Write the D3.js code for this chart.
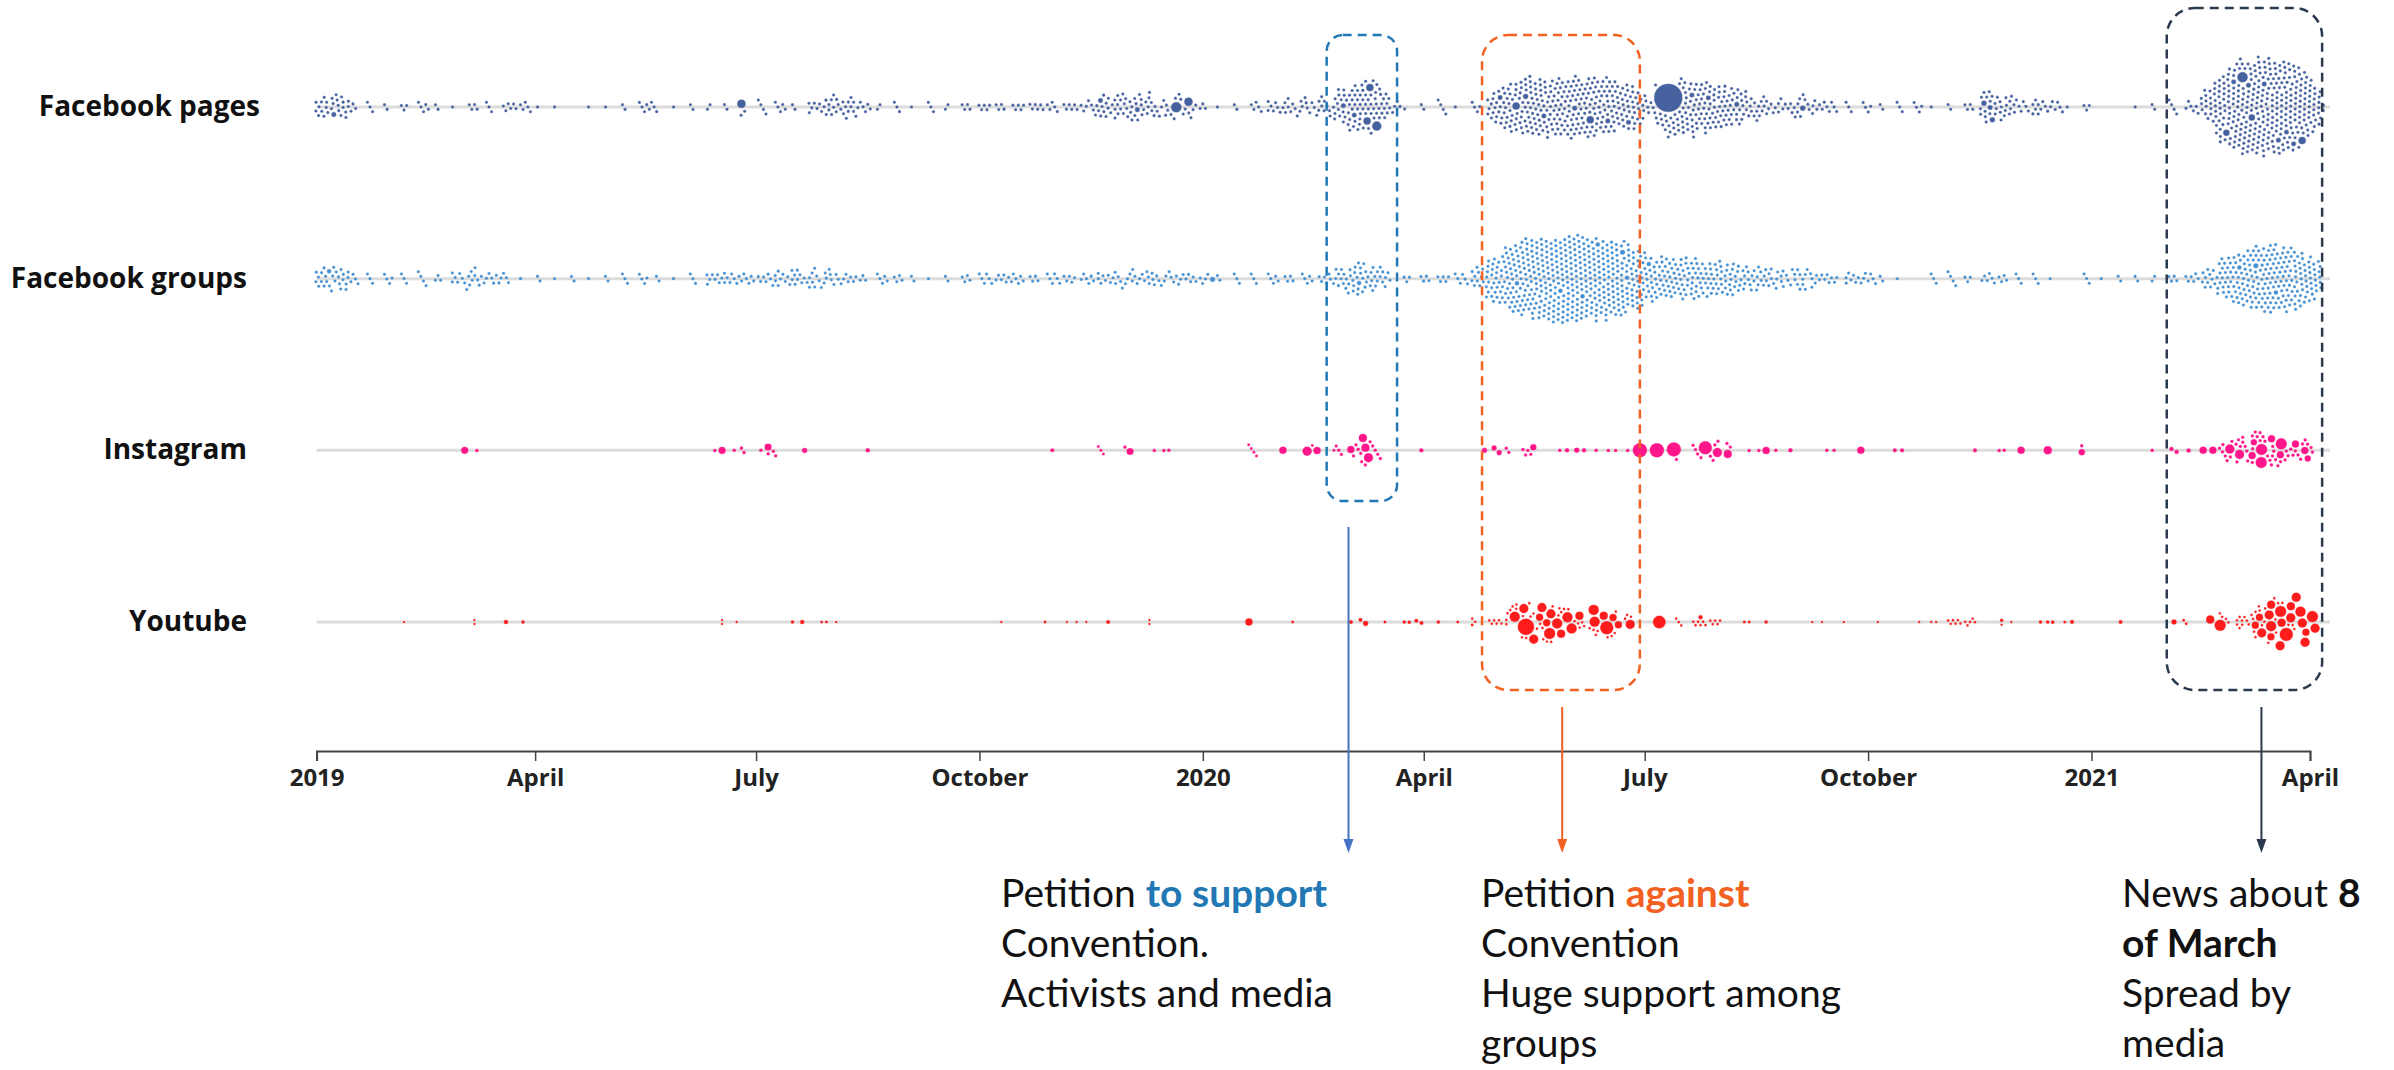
<!DOCTYPE html>
<html><head><meta charset="utf-8">
<script src="https://cdn.jsdelivr.net/npm/d3@7"></script>
<style>
html,body{margin:0;padding:0;background:#fff;}
svg{display:block;}
</style></head><body>
<svg id="chart" width="2394" height="1070"></svg>
<script>
// ================= DATA =================
const platforms = ["Facebook pages", "Facebook groups", "Instagram", "Youtube"];
const firstWeek = "2019-01-01"; // weekly counts: one value per 7-day week from this date

// number of ordinary posts per week
const fbPagesWeekly = [12,14,3,3,2,3,5,2,1,4, 3,6,5,1,1,0,1,1,2,7, 1,1,2,2,2,2,4,5,2,8,
  12,12,5,2,3,1,3,2,4,5, 4,5,6,5,6,7,12,16,14,10, 8,6,3,1,2,5,8,9,9,10,
  20,30,24,6,1,2,4,1,4,18, 30,36,36,36,36,36,32,26,10,12, 30,32,28,22,15,10,8,10,8,4,
  3,4,2,3,4,1,2,4,16,14, 6,10,6,1,3,0,0,1,2,4, 6,18,45,58,62,62,54,28];
const fbGroupsWeekly = [12,14,4,3,4,3,4,3,8,10, 7,3,1,2,1,2,1,2,3,4, 2,1,3,8,8,6,7,9,10,10,
  9,6,3,5,4,2,1,2,4,6, 7,5,4,6,5,6,8,8,8,9, 7,6,4,2,3,3,5,4,5,7,
  14,18,15,2,3,4,5,6,12,30, 42,50,55,58,60,56,48,36,26,26, 26,24,22,19,15,12,10,12,8,4,
  8,6,2,1,0,3,4,3,6,4, 3,3,1,0,3,1,2,2,2,4, 6,12,26,36,42,44,40,26];
const instagramWeekly = [0,0,0,0,0,0,0,0,0,0, 0,0,0,0,0,0,0,0,0,0, 0,0,0,0,0,0,0,0,0,0,
  0,0,0,0,0,0,0,0,0,0, 0,0,0,0,0,0,0,0,0,0, 0,0,0,0,0,0,0,0,0,0,
  3,6,5,0,0,0,0,0,0,0, 2,4,0,0,0,0,0,0,0,0, 1,4,4,2,0,0,0,0,0,0,
  0,0,0,0,0,0,0,0,0,0, 0,0,0,0,0,0,0,0,0,0, 0,0,6,10,10,9,7,4];
const youtubeWeekly = [0,0,0,0,0,0,0,0,0,0, 0,0,0,0,0,0,0,0,0,0, 0,0,0,0,0,0,0,0,0,0,
  0,0,0,0,0,0,0,0,0,0, 0,0,0,0,0,0,0,0,0,0, 0,0,0,0,0,0,0,0,0,0,
  0,0,0,0,0,0,0,0,2,6, 8,6,6,5,5,4,4,3,0,0, 3,6,5,0,0,0,0,0,0,0,
  0,0,0,0,0,0,6,5,0,0, 0,0,0,0,0,0,0,0,0,0, 0,0,4,10,10,5,3,0];

// interaction weight of an ordinary post on each platform
const ordinaryPostWeight = [0.5, 0.5, 0.65, 0.4];

// individual posts: [date, relative interactions]
const fbPagesPosts = [["2019-01-08",1.5],["2019-06-25",4.9],["2019-11-20",1.5],["2019-12-05",1.5],
  ["2019-12-21",7.7],["2019-12-26",4.9],["2020-02-28",1.5],["2020-03-04",1.5],["2020-03-09",3.8],
  ["2020-03-12",6.2],["2020-03-10",3.8],["2020-05-03",1.5],["2020-05-09",3.8],["2020-05-13",1.9],
  ["2020-05-20",1.5],["2020-06-02",1.5],["2020-06-09",3.8],["2020-06-15",1.5],["2020-06-24",1.5],
  ["2020-07-11",60],["2020-07-20",1.5],["2020-07-28",1.5],["2020-08-08",1.5],["2020-09-04",1.9],
  ["2020-11-18",1.9],["2020-11-20",1.5],["2020-11-21",1.9],["2021-02-27",2.8],["2021-03-01",1.5],
  ["2021-03-05",7.7],["2021-03-07",1.5],["2021-03-09",2.8],["2021-03-14",1.5],["2021-03-18",1.5],
  ["2021-03-22",1.5],["2021-03-25",1.5],["2021-03-27",3.8]];
const fbGroupsPosts = [["2019-01-06",1.2],["2020-01-05",1.6],["2020-03-05",1.2],["2020-05-10",1.2],
  ["2020-05-28",1.2],["2020-06-05",1.2],["2020-06-12",1.2],["2020-06-20",1.6],["2020-06-22",1.2],
  ["2020-07-02",1.2],["2021-03-04",1.2],["2021-03-10",1.6],["2021-03-18",1.2]];
const instagramPosts = [["2019-03-03",3.6],["2019-03-08",0.7],
  ["2019-06-14",0.7],["2019-06-17",3.6],["2019-06-22",0.7],["2019-06-25",0.7],["2019-06-26",0.7],
  ["2019-07-03",0.7],["2019-07-06",3.4],["2019-07-06",0.7],["2019-07-08",0.7],["2019-07-09",0.7],
  ["2019-07-21",1.9],["2019-08-16",1.2],["2019-10-31",1],
  ["2019-11-19",0.5],["2019-11-20",0.5],["2019-11-21",0.5],
  ["2019-11-30",0.7],["2019-12-02",3.4],["2019-12-12",0.7],["2019-12-16",0.7],["2019-12-18",0.7],
  ["2020-01-20",0.5],["2020-01-21",0.5],["2020-01-22",0.5],["2020-01-23",0.5],
  ["2020-02-03",3.8],["2020-02-13",6.2],["2020-02-15",0.5],["2020-02-17",3.8],["2020-02-24",0.5],
  ["2020-03-02",3.8],["2020-03-07",4.9],["2020-03-08",4.9],["2020-03-09",6.2],
  ["2020-03-31",1.2],["2020-04-26",1.9],["2020-04-30",1.9],["2020-05-02",1.9],["2020-05-16",2.8],
  ["2020-05-27",0.7],["2020-05-30",1.2],["2020-06-03",1.9],["2020-06-06",1.2],["2020-06-11",0.7],
  ["2020-06-16",0.7],["2020-06-19",0.7],["2020-06-24",0.7],
  ["2020-06-29",15],["2020-07-06",15],["2020-07-13",15],
  ["2020-07-26",13],["2020-07-31",6.2],["2020-08-04",4.9],
  ["2020-08-13",0.7],["2020-08-17",0.7],["2020-08-20",3.8],["2020-08-24",0.7],["2020-08-30",1.2],
  ["2020-09-14",0.7],["2020-09-17",0.7],["2020-09-28",3.8],["2020-10-12",1],["2020-10-15",1],
  ["2020-11-14",1],["2020-11-24",0.7],["2020-11-26",0.7],["2020-12-03",3.8],["2020-12-14",4.9],
  ["2020-12-28",0.7],["2020-12-28",2.8],
  ["2021-01-26",0.7],["2021-02-03",1.2],["2021-02-05",1.2],["2021-02-10",1.2],["2021-02-16",3.8],
  ["2021-02-20",3.8],["2021-02-24",0.7],
  ["2021-02-27",6.2],["2021-03-03",6.2],["2021-03-08",3.8],["2021-03-10",2.8],["2021-03-12",9.3],
  ["2021-03-12",9.3],["2021-03-16",3.8],["2021-03-20",9.3],["2021-03-20",3.8],["2021-03-26",3.8],
  ["2021-03-30",3.8],["2021-03-31",2.8]];
const youtubePosts = [["2019-02-06",0.3],["2019-03-07",0.3],["2019-03-07",0.3],["2019-03-20",1.2],["2019-03-27",0.7],
  ["2019-06-17",0.3],["2019-06-17",0.3],["2019-06-23",0.3],["2019-07-16",0.7],["2019-07-20",1.2],
  ["2019-07-28",0.45],["2019-07-30",0.45],["2019-08-03",0.3],
  ["2019-10-10",0.3],["2019-10-28",0.45],["2019-11-06",0.3],["2019-11-10",0.3],["2019-11-14",0.3],
  ["2019-11-23",1],["2019-12-10",0.3],["2019-12-10",0.3],
  ["2020-01-20",3.8],["2020-02-07",0.45],
  ["2020-03-02",1],["2020-03-06",1],["2020-03-08",1.9],["2020-03-16",0.45],["2020-03-24",0.7],
  ["2020-03-26",0.7],["2020-03-29",1],["2020-03-31",1],
  ["2020-04-07",0.7],["2020-04-15",0.45],["2020-04-21",0.45],
  ["2020-05-09",7.7],["2020-05-12",6.2],["2020-05-13",20],["2020-05-16",6.2],["2020-05-19",3.8],
  ["2020-05-20",6.2],["2020-05-22",3.8],["2020-05-23",6.2],["2020-05-23",9.3],["2020-05-26",7.7],
  ["2020-05-27",4.9],["2020-05-30",7.7],["2020-06-01",7.7],["2020-06-04",4.9],["2020-06-10",7.7],
  ["2020-06-11",7.7],["2020-06-14",4.9],["2020-06-15",13],["2020-06-18",3.8],["2020-06-20",3.8],
  ["2020-06-25",6.2],
  ["2020-07-07",12],["2020-07-24",1.2],
  ["2020-08-11",0.45],["2020-08-13",0.45],["2020-08-20",0.7],["2020-09-08",0.3],["2020-09-12",0.3],
  ["2020-09-21",0.3],["2020-10-05",0.3],["2020-10-22",0.3],["2020-10-27",0.3],["2020-10-29",0.3],
  ["2020-11-25",0.7],["2020-11-25",0.3],["2020-11-29",0.3],["2020-12-11",0.7],["2020-12-14",0.7],
  ["2020-12-16",0.7],["2020-12-21",0.45],["2020-12-24",1],
  ["2021-01-13",1],["2021-02-04",1.9],["2021-02-08",0.45],["2021-02-09",0.45],["2021-02-19",4.9],
  ["2021-02-23",9.3],
  ["2021-03-10",3.8],["2021-03-12",6.2],["2021-03-12",3.8],["2021-03-16",4.9],["2021-03-16",6.2],
  ["2021-03-16",7.7],["2021-03-16",3.8],["2021-03-20",9.3],["2021-03-20",4.9],["2021-03-20",6.2],
  ["2021-03-22",13],["2021-03-24",6.2],["2021-03-25",4.9],["2021-03-26",6.2],["2021-03-27",7.7],
  ["2021-03-29",6.2],["2021-03-30",3.8],["2021-03-30",6.2],["2021-04-02",9.3],["2021-04-03",6.2]];

// axis
const tickDates = ["2019-01-01","2019-04-01","2019-07-01","2019-10-01","2020-01-01",
                   "2020-04-01","2020-07-01","2020-10-01","2021-01-01","2021-04-01"];
const tickLabels = ["2019","April","July","October","2020","April","July","October","2021","April"];

// highlighted periods and their notes
const highlightStarts = ["2020-02-21","2020-04-25","2021-02-01"];
const highlightEnds   = ["2020-03-21","2020-06-29","2021-04-06"];
const arrowDates      = ["2020-03-01","2020-05-28","2021-03-12"];
const noteLines = [
  [[["Petition ","n"],["to support","a0"]], [["Convention.","n"]], [["Activists and media","n"]]],
  [[["Petition ","n"],["against","a1"]], [["Convention","n"]], [["Huge support among","n"]], [["groups","n"]]],
  [[["News about ","n"],["8","b"]], [["of March","b"]], [["Spread by","n"]], [["media","n"]]]
];

// ================= LAYOUT / STYLE =================
const W = 2394, H = 1070;
const dotColors = ["#3b5a9a", "#3a8ad0", "#ff0a84", "#ff1010"];
const haloOpacity = [0.35, 0.35, 0.25, 0.25];
const boxColors = ["#2178b4", "#f26122", "#2c3a4d"];
const arrowColors = ["#4472c4", "#f26122", "#2c3a4d"];
const boxTop = [35, 35, 8], boxBottom = [501, 690, 690], boxRx = [16, 26, 28];
const arrowTop = [527, 707, 707], arrowTip = 853;
const noteX = [1001, 1481, 2122], noteBaseline0 = 907, noteLineGap = 50;
const axisY = 751;

const parse = d3.utcParse("%Y-%m-%d");
const x = d3.scaleUtc().domain([parse("2019-01-01"), parse("2021-04-01")]).range([316.6, 2310]);
const y = d3.scalePoint().domain(platforms).range([107, 622]);
const r = d3.scaleSqrt().domain([0, 1]).range([0, 1.8]);

const svg = d3.select("#chart");
svg.append("rect").attr("width", W).attr("height", H).attr("fill", "#fff");

// row labels
const labelEnd = {"Facebook pages": 260, "Facebook groups": 247, "Instagram": 247, "Youtube": 247};
svg.append("g").selectAll("text").data(platforms).join("text")
  .attr("x", d => labelEnd[d]).attr("y", d => y(d) + 9)
  .attr("text-anchor", "end")
  .attr("font-family", "'Open Sans', sans-serif").attr("font-weight", 700)
  .attr("font-size", 28).attr("fill", "#111")
  .text(d => d);

// row baselines
svg.append("g").selectAll("line").data(platforms).join("line")
  .attr("x1", x.range()[0]).attr("x2", x.range()[1] + 20)
  .attr("y1", d => y(d)).attr("y2", d => y(d))
  .attr("stroke", "#dcdcdc").attr("stroke-width", 3);

// build nodes
const weeklyAll = [fbPagesWeekly, fbGroupsWeekly, instagramWeekly, youtubeWeekly];
const postsAll = [fbPagesPosts, fbGroupsPosts, instagramPosts, youtubePosts];
const start = parse(firstWeek);

platforms.forEach((p, pi) => {
  const cy = y(p);
  const nodes = [];
  weeklyAll[pi].forEach((count, wi) => {
    for (let k = 0; k < count; k++) {
      const date = d3.utcDay.offset(start, wi * 7 + (k % 7));
      nodes.push({date, value: ordinaryPostWeight[pi]});
    }
  });
  postsAll[pi].forEach(([ds, v]) => nodes.push({date: parse(ds), value: v}));
  nodes.forEach((n, i) => {
    n.tx = x(n.date);
    n.r = r(n.value);
    n.x = n.tx;
    n.y = cy + ((i % 9) - 4) * 0.8;
  });
  const pad = pi < 2 ? 1.4 : 1.0;
  const sim = d3.forceSimulation(nodes)
    .force("x", d3.forceX(d => d.tx).strength(0.9))
    .force("y", d3.forceY(cy).strength(0.05))
    .force("collide", d3.forceCollide(d => d.r + pad).iterations(3))
    .stop();
  for (let i = 0; i < 320; i++) sim.tick();
  nodes.sort((a, b) => a.r - b.r);
  svg.append("g").selectAll("circle").data(nodes).join("circle")
    .attr("cx", d => d.x).attr("cy", d => d.y).attr("r", d => d.r)
    .attr("fill", dotColors[pi]).attr("fill-opacity", 0.95)
    .attr("stroke", dotColors[pi]).attr("stroke-opacity", haloOpacity[pi])
    .attr("stroke-width", 1.1);
});

// axis
const axis = d3.axisBottom(x)
  .tickValues(tickDates.map(parse))
  .tickFormat((d, i) => tickLabels[i])
  .tickSize(10).tickSizeOuter(10).tickPadding(8);
const gAxis = svg.append("g").attr("transform", `translate(0,${axisY})`).call(axis);
gAxis.select(".domain").attr("stroke", "#444").attr("stroke-width", 2);
gAxis.selectAll(".tick line").attr("stroke", "#444").attr("stroke-width", 1.5);
gAxis.selectAll(".tick text")
  .attr("font-family", "'Open Sans', sans-serif").attr("font-weight", 700)
  .attr("font-size", 24).attr("fill", "#222");

// highlight boxes
highlightStarts.forEach((s, i) => {
  const x0 = x(parse(s)), x1 = x(parse(highlightEnds[i]));
  svg.append("rect")
    .attr("x", x0).attr("y", boxTop[i])
    .attr("width", x1 - x0).attr("height", boxBottom[i] - boxTop[i])
    .attr("rx", boxRx[i]).attr("ry", boxRx[i])
    .attr("fill", "none").attr("stroke", boxColors[i])
    .attr("stroke-width", 2.5).attr("stroke-dasharray", "9,6");
});

// arrows
arrowDates.forEach((ds, i) => {
  const ax = x(parse(ds));
  svg.append("line").attr("x1", ax).attr("x2", ax)
    .attr("y1", arrowTop[i]).attr("y2", arrowTip - 12)
    .attr("stroke", arrowColors[i]).attr("stroke-width", 2);
  svg.append("path")
    .attr("d", `M${ax - 5},${arrowTip - 14}L${ax + 5},${arrowTip - 14}L${ax},${arrowTip}Z`)
    .attr("fill", arrowColors[i]);
});

// notes
const styleOf = {
  n: {w: 400, c: "#111"},
  b: {w: 700, c: "#111"},
  a0: {w: 700, c: boxColors[0]},
  a1: {w: 700, c: boxColors[1]}
};
noteLines.forEach((lines, ni) => {
  const t = svg.append("text")
    .attr("font-family", "Lato, sans-serif").attr("font-size", 39);
  lines.forEach((segs, li) => {
    segs.forEach(([txt, st], si) => {
      const ts = t.append("tspan").text(txt)
        .attr("font-weight", styleOf[st].w).attr("fill", styleOf[st].c)
        .style("white-space", "pre");
      if (si === 0) ts.attr("x", noteX[ni]).attr("y", noteBaseline0 + li * noteLineGap);
    });
  });
  t.attr("xml:space", "preserve");
});
</script>
</body></html>
